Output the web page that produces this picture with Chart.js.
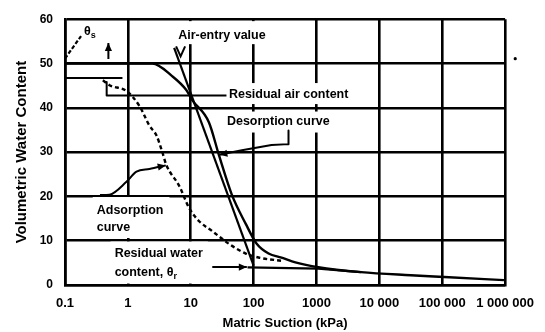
<!DOCTYPE html>
<html>
<head>
<meta charset="utf-8">
<script src="https://cdn.jsdelivr.net/npm/chart.js@4/dist/chart.umd.min.js"></script>
<style>
  html, body { margin: 0; padding: 0; background: #fff; }
  #wrap { width: 545px; height: 332px; position: relative; }
</style>
</head>
<body>
<div id="wrap"><canvas id="swcc"></canvas></div>
<script>
// ---- axis ticks ----------------------------------------------------------
const SUCTION_TICKS = [0.1, 1, 10, 100, 1000, 10000, 100000, 1000000];
const SUCTION_TICK_LABELS = ['0.1', '1', '10', '100', '1000', '10 000', '100 000', '1 000 000'];
const WATER_TICKS = [0, 10, 20, 30, 40, 50, 60];

// ---- desorption (drying) curve: suction in kPa, volumetric water content in % ----
const DESORPTION_SUCTION = [0.1, 1, 2.45, 5.1, 8.5, 10.5, 19.5, 28.1, 45, 75, 112, 173, 278, 462, 1070, 5100, 31500, 108000, 960000];
const DESORPTION_WATER   = [50, 50, 50, 47.1, 44, 41.8, 36.7, 29.3, 20.4, 13.8, 9.3, 7.1, 6.2, 5.1, 4.0, 2.9, 2.2, 1.8, 1.1];

// ---- adsorption (wetting) curve ----
const ADSORPTION_SUCTION = [0.4, 0.51, 0.95, 1.53, 2.2, 2.84, 3.53, 4.09, 6.6, 9.4, 13.6, 21.8, 40.4, 75, 120, 300];
const ADSORPTION_WATER   = [46.2, 45.1, 43.8, 40.4, 36, 33.8, 30, 27.1, 22.3, 17.4, 14.4, 12.2, 9.3, 7.1, 6.2, 5.4];

// ---- construction lines ----
const TANGENT_SUCTION = [5.45, 100];           // tangent through the inflection point
const TANGENT_WATER   = [53.5, 4.4];
const RESIDUAL_SUCTION = [80, 1070, 5100];     // residual water content line
const RESIDUAL_WATER   = [4.0, 3.7, 2.9];
const ZERO_SUCTION_LEVEL_SUCTION = [0.1, 0.82]; // adsorption end level at low suction
const ZERO_SUCTION_LEVEL_WATER   = [46.7, 46.7];
const AIR_BRACKET_SUCTION = [0.46, 0.46, 37];   // residual air content bracket + leader
const AIR_BRACKET_WATER   = [45.8, 42.8, 42.8];

// ---- leader arrows for the annotations ----
const ADS_LEADER_SUCTION = [0.36, 0.51, 0.95, 1.37, 2.2, 4.0];
const ADS_LEADER_WATER   = [20.3, 20.4, 23.3, 25.6, 26.2, 27.0];
const DES_LEADER_SUCTION = [359, 359, 193, 65, 28.5];
const DES_LEADER_WATER   = [34.9, 31.8, 31.6, 30.4, 29.4];
const RES_LEADER_SUCTION = [22, 78];
const RES_LEADER_WATER   = [4.05, 4.05];
const SAT_LEADER_SUCTION = [0.1, 0.18];
const SAT_LEADER_WATER   = [51.1, 56.2];
const UP_ARROW_SUCTION = [0.49, 0.49];
const UP_ARROW_WATER   = [51.0, 54.6];

const pts = (xs, ys) => xs.map((x, i) => ({ x, y: ys[i] }));

const INK = '#000';
const LABEL_FONT = 'bold 12.5px "Liberation Sans", Arial, sans-serif';
const SUB_FONT = 'bold 9px "Liberation Sans", Arial, sans-serif';

// text notes anchored in data units; pad = white box extension [left, top, right, bottom]
const NOTES = [
  { at: [31.3, 56.4], align: 'center', gap: 0, lines: [[{ t: 'Air-entry value' }]], pad: [4, 7, 4, 2] },
  { at: [40.5, 43.1], align: 'left', gap: 0, lines: [[{ t: 'Residual air content' }]], pad: [3, 4, 4, 3] },
  { at: [37.6, 36.9], align: 'left', gap: 0, lines: [[{ t: 'Desorption curve' }]], pad: [4, 3, 4, 4] },
  { at: [0.32, 16.7], align: 'left', gap: 17, lines: [[{ t: 'Adsorption' }], [{ t: 'curve' }]], pad: [4, 7, 6, 3] },
  { at: [0.616, 7.1], align: 'left', gap: 19, lines: [[{ t: 'Residual water' }], [{ t: 'content, θ' }, { t: 'r', sub: true }]], pad: [4, 5, 5, 4] },
  { at: [0.2, 57.2], align: 'left', gap: 0, lines: [[{ t: 'θ' }, { t: 's', sub: true }]], pad: null }
];

function lineWidthOf(ctx, segs) {
  let w = 0;
  segs.forEach(s => { ctx.font = s.sub ? SUB_FONT : LABEL_FONT; w += ctx.measureText(s.t).width; });
  return w;
}

const notesPlugin = {
  id: 'notes',
  beforeDatasetsDraw(chart) {
    const { ctx, scales: { x, y } } = chart;
    ctx.save();
    ctx.fillStyle = '#fff';
    NOTES.forEach(n => {
      if (!n.pad) return;
      const px = x.getPixelForValue(n.at[0]);
      const py = y.getPixelForValue(n.at[1]);
      const w = Math.max(...n.lines.map(l => lineWidthOf(ctx, l)));
      const left = n.align === 'center' ? px - w / 2 : px;
      const top = py - 7;
      const bottom = py + (n.lines.length - 1) * n.gap + 7;
      ctx.fillRect(left - n.pad[0], top - n.pad[1], w + n.pad[0] + n.pad[2], bottom - top + n.pad[1] + n.pad[3]);
    });
    ctx.restore();
  },
  afterDatasetsDraw(chart) {
    const { ctx, scales: { x, y } } = chart;
    ctx.save();
    // arrowheads at the end of leader datasets
    chart.data.datasets.forEach((ds, i) => {
      if (!ds.arrow) return;
      const pts = chart.getDatasetMeta(i).data;
      const a = pts[pts.length - 2], b = pts[pts.length - 1];
      const ang = Math.atan2(b.y - a.y, b.x - a.x);
      const L = 8, H = 3.6;
      ctx.fillStyle = INK;
      ctx.beginPath();
      ctx.moveTo(b.x, b.y);
      ctx.lineTo(b.x - L * Math.cos(ang) + H * Math.sin(ang), b.y - L * Math.sin(ang) - H * Math.cos(ang));
      ctx.lineTo(b.x - L * Math.cos(ang) - H * Math.sin(ang), b.y - L * Math.sin(ang) + H * Math.cos(ang));
      ctx.closePath();
      ctx.fill();
    });
    // open arrowhead under the air-entry note
    const vx = x.getPixelForValue(6.9), vy = y.getPixelForValue(51.6);
    ctx.strokeStyle = INK; ctx.lineWidth = 2;
    ctx.beginPath();
    ctx.moveTo(vx - 4.5, vy - 10); ctx.lineTo(vx, vy); ctx.lineTo(vx + 4.5, vy - 10);
    ctx.stroke();
    // small speck to the right of the plot
    ctx.fillStyle = INK;
    ctx.beginPath();
    ctx.arc(x.getPixelForValue(1.45e6), y.getPixelForValue(51.1), 1.6, 0, Math.PI * 2);
    ctx.fill();
    // note texts
    ctx.fillStyle = INK;
    ctx.textBaseline = 'middle';
    NOTES.forEach(n => {
      const px = x.getPixelForValue(n.at[0]);
      const py = y.getPixelForValue(n.at[1]);
      n.lines.forEach((segs, li) => {
        const w = lineWidthOf(ctx, segs);
        let cx = n.align === 'center' ? px - w / 2 : px;
        const cy = py + li * n.gap;
        segs.forEach(s => {
          ctx.font = s.sub ? SUB_FONT : LABEL_FONT;
          ctx.textAlign = 'left';
          ctx.fillText(s.t, cx, s.sub ? cy + 4 : cy);
          cx += ctx.measureText(s.t).width;
        });
      });
    });
    ctx.restore();
  }
};

const solid = (data, w, extra) => Object.assign({
  data, borderColor: INK, borderWidth: w, pointRadius: 0, fill: false, tension: 0,
  borderJoinStyle: 'round', borderCapStyle: 'butt'
}, extra || {});

new Chart(document.getElementById('swcc'), {
  type: 'line',
  data: {
    datasets: [
      solid(pts(DESORPTION_SUCTION, DESORPTION_WATER), 2.4, { label: 'Desorption curve', cubicInterpolationMode: 'monotone' }),
      solid(pts(ADSORPTION_SUCTION, ADSORPTION_WATER), 2.4, { label: 'Adsorption curve', cubicInterpolationMode: 'monotone', borderDash: [4, 3] }),
      solid(pts(TANGENT_SUCTION, TANGENT_WATER), 2.2, { label: 'Tangent' }),
      solid(pts(RESIDUAL_SUCTION, RESIDUAL_WATER), 2.2, { label: 'Residual water content' }),
      solid(pts(ZERO_SUCTION_LEVEL_SUCTION, ZERO_SUCTION_LEVEL_WATER), 2, { label: 'Adsorption end level' }),
      solid(pts(AIR_BRACKET_SUCTION, AIR_BRACKET_WATER), 2, { label: 'Residual air content' }),
      solid(pts(ADS_LEADER_SUCTION, ADS_LEADER_WATER), 2, { label: 'Adsorption leader', arrow: true, cubicInterpolationMode: 'monotone' }),
      solid(pts(DES_LEADER_SUCTION, DES_LEADER_WATER), 2, { label: 'Desorption leader', arrow: true }),
      solid(pts(RES_LEADER_SUCTION, RES_LEADER_WATER), 2, { label: 'Residual leader', arrow: true }),
      solid(pts(SAT_LEADER_SUCTION, SAT_LEADER_WATER), 2.2, { label: 'Saturation leader', borderDash: [4, 2] }),
      solid(pts(UP_ARROW_SUCTION, UP_ARROW_WATER), 2, { label: 'Up arrow', arrow: true })
    ]
  },
  options: {
    responsive: true,
    maintainAspectRatio: false,
    animation: false,
    devicePixelRatio: 1,
    layout: { padding: { left: 0, top: 15, right: 37, bottom: 0 } },
    plugins: { legend: { display: false }, tooltip: { enabled: false } },
    scales: {
      x: {
        type: 'logarithmic',
        min: 0.1,
        max: 1000000,
        afterBuildTicks: s => { s.ticks = SUCTION_TICKS.map(v => ({ value: v })); },
        afterFit: s => { s.height = 47; },
        grid: { color: INK, lineWidth: 2.6, drawTicks: false },
        border: { display: true, color: INK, width: 2.6 },
        ticks: {
          autoSkip: false, maxRotation: 0, padding: 11, color: INK,
          font: { family: '"Liberation Sans", Arial, sans-serif', size: 13, weight: 'bold' },
          callback: (v, i) => SUCTION_TICK_LABELS[i]
        },
        title: {
          display: true, text: 'Matric Suction (kPa)', color: INK,
          font: { family: '"Liberation Sans", Arial, sans-serif', size: 13, weight: 'bold' },
          padding: { top: 0, bottom: 1 }
        }
      },
      y: {
        type: 'linear',
        min: 0,
        max: 60,
        afterBuildTicks: s => { s.ticks = WATER_TICKS.map(v => ({ value: v })); },
        afterFit: s => { s.width = 65; },
        grid: { color: INK, lineWidth: 2.6, drawTicks: false },
        border: { display: true, color: INK, width: 2.6 },
        ticks: {
          padding: 12, color: INK,
          font: { family: '"Liberation Sans", Arial, sans-serif', size: 12, weight: 'bold' },
          callback: v => String(v)
        },
        title: {
          display: true, text: 'Volumetric Water Content', color: INK,
          font: { family: '"Liberation Sans", Arial, sans-serif', size: 15, weight: 'bold' },
          padding: { top: 13, bottom: 0 }
        }
      }
    }
  },
  plugins: [notesPlugin]
});
</script>
</body>
</html>
